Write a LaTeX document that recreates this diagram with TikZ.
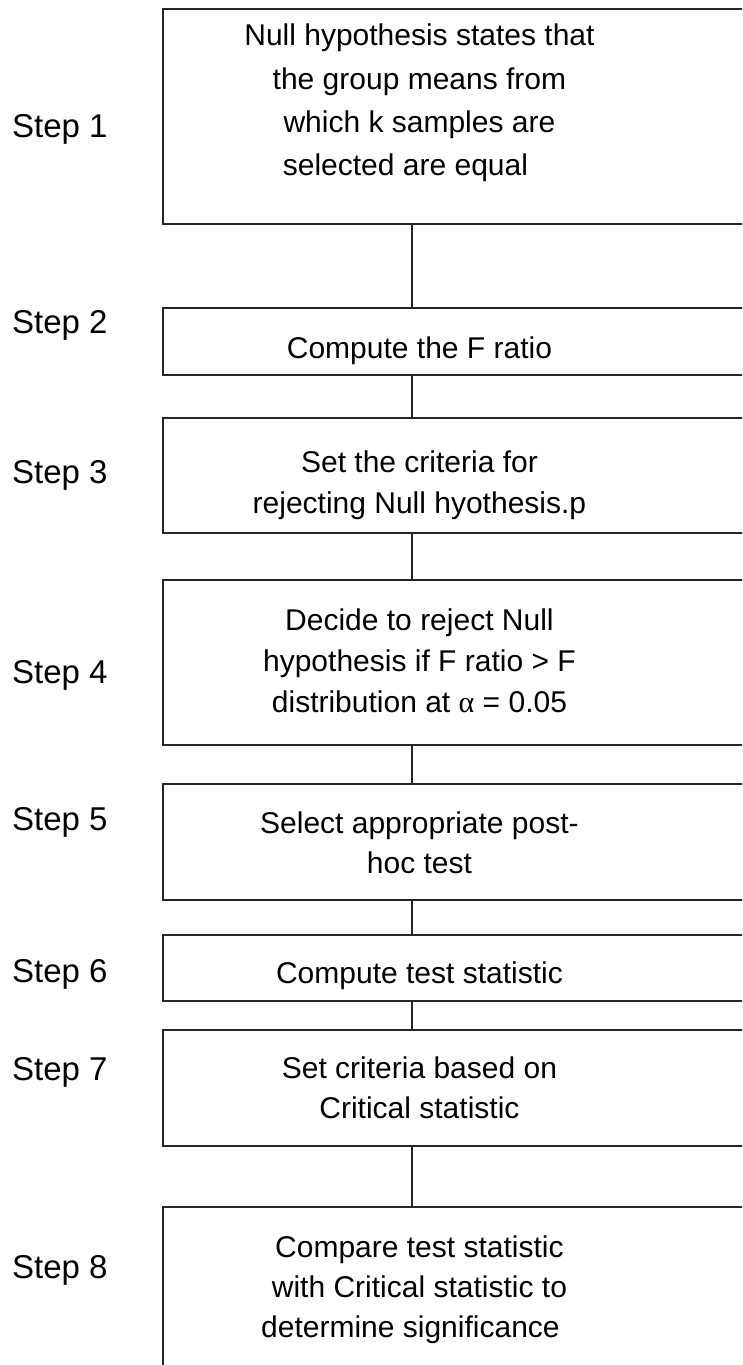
\documentclass[tikz,border=0pt]{standalone}
\usepackage{fontspec}
\setmainfont{Liberation Sans}
\newfontfamily\alphafont{Liberation Serif}
\newcommand{\boxtxt}[2][41]{\parbox[t]{500pt}{\centering\fontsize{30}{#1}\selectfont #2}\rule{127pt}{0pt}}
\begin{document}
\begin{tikzpicture}[x=1pt,y=-1pt,
  stepbox/.style={draw=black!85, line width=1.9pt, anchor=north west, inner sep=0pt, minimum width=640pt},
  steplabel/.style={anchor=base west, inner sep=0pt, font=\fontsize{33}{40}\selectfont},
  link/.style={draw=black!85, line width=1.4pt}]
\useasboundingbox (0,0) rectangle (742,1365);
\clip (0,0) rectangle (742,1365);
\fill[white] (0,0) rectangle (742,1365);
\coordinate (spine) at (412,0);

\node[stepbox, text height=37pt, text depth=177.7pt] (b1) at (162,8)
  {\boxtxt[43.3]{Null hypothesis states that\\ the group means from\\ which k samples are\\ selected are equal\hspace*{28pt}}};
\node[stepbox, text height=50.7pt, text depth=16.3pt] (b2) at (162,307.3)
  {\boxtxt{Compute the F ratio}};
\node[stepbox, text height=55.3pt, text depth=59.7pt] (b3) at (162,416.7)
  {\boxtxt{Set the criteria for\\ rejecting Null hyothesis.p}};
\node[stepbox, text height=51pt, text depth=114pt] (b4) at (162,579)
  {\boxtxt{Decide to reject Null\\ hypothesis if F ratio {>} F\\ distribution at {\alphafont α} = 0.05}};
\node[stepbox, text height=49.7pt, text depth=66.3pt] (b5) at (162,783.3)
  {\boxtxt[40]{Select appropriate post-\\ hoc test}};
\node[stepbox, text height=49pt, text depth=17.3pt] (b6) at (162,934)
  {\boxtxt{Compute test statistic}};
\node[stepbox, text height=49pt, text depth=67pt] (b7) at (162,1029)
  {\boxtxt[40]{Set criteria based on\\ Critical statistic}};
\node[stepbox, text height=51pt, text depth=220pt] (b8) at (162,1205.7)
  {\boxtxt[40]{Compare test statistic\\ with Critical statistic to\\ determine significance\hspace*{18pt}}};

\draw[link] (b1.south -| spine) -- (b2.north -| spine);
\draw[link] (b2.south -| spine) -- (b3.north -| spine);
\draw[link] (b3.south -| spine) -- (b4.north -| spine);
\draw[link] (b4.south -| spine) -- (b5.north -| spine);
\draw[link] (b5.south -| spine) -- (b6.north -| spine);
\draw[link] (b6.south -| spine) -- (b7.north -| spine);
\draw[link] (b7.south -| spine) -- (b8.north -| spine);

\node[steplabel] (s1) at (12,137) {Step 1};
\node[steplabel] (s2) at (12,333) {Step 2};
\node[steplabel] (s3) at (12,483) {Step 3};
\node[steplabel] (s4) at (12,683) {Step 4};
\node[steplabel] (s5) at (12,830) {Step 5};
\node[steplabel] (s6) at (12,982) {Step 6};
\node[steplabel] (s7) at (12,1080) {Step 7};
\node[steplabel] (s8) at (12,1278) {Step 8};
\end{tikzpicture}
\end{document}
